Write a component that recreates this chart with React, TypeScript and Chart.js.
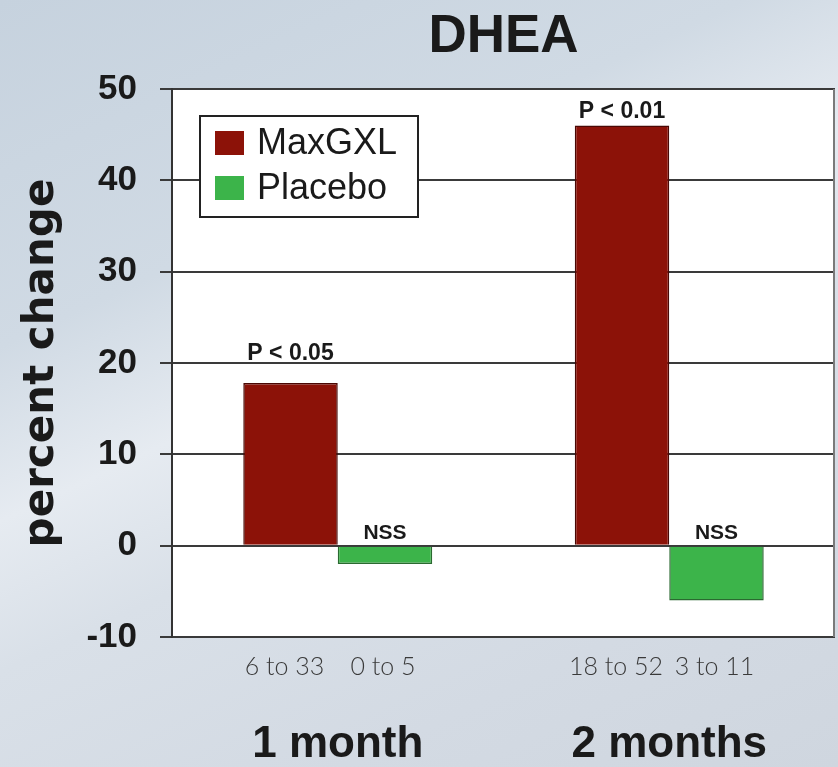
import React, { useEffect, useRef } from "react";
import { Chart, registerables } from "chart.js";

Chart.register(...registerables);

const categories = ["1 month", "2 months"];
const maxgxlValues = [17.8, 46];
const placeboValues = [-2, -6];
const maxgxlPLabels = ["P < 0.05", "P < 0.01"];
const placeboPLabels = ["NSS", "NSS"];
const maxgxlRanges = ["6 to 33", "18 to 52"];
const placeboRanges = ["0 to 5", "3 to 11"];
const yTicks = { min: -10, max: 50, step: 10 };

const SANS = "'Liberation Sans', Arial, sans-serif";

const plotBgPlugin = {
  id: "plotBg",
  beforeDraw(chart: any) {
    const { ctx, chartArea } = chart;
    ctx.save();
    ctx.fillStyle = "#ffffff";
    ctx.fillRect(chartArea.left, chartArea.top, chartArea.right - chartArea.left, chartArea.bottom - chartArea.top);
    ctx.restore();
  },
  afterDraw(chart: any) {
    const { ctx, chartArea } = chart;
    ctx.save();
    ctx.strokeStyle = "#7a7a7a";
    ctx.lineWidth = 2;
    ctx.beginPath();
    ctx.moveTo(chartArea.right - 1, chartArea.top);
    ctx.lineTo(chartArea.right - 1, chartArea.bottom);
    ctx.stroke();
    ctx.restore();
  },
};

const annotatePlugin = {
  id: "annotate",
  afterDatasetsDraw(chart: any) {
    const { ctx, chartArea } = chart;
    const yScale = chart.scales.y;
    const gridPx = yScale.ticks.map((t: any) => yScale.getPixelForValue(t.value));
    ctx.save();
    chart.data.datasets.forEach((ds: any, di: number) => {
      const meta = chart.getDatasetMeta(di);
      meta.data.forEach((el: any, i: number) => {
        const top = Math.min(el.y, el.base);
        const label = ds.pLabels[i];
        const size = ds.pLabelSize;
        ctx.font = `bold ${size}px ${SANS}`;
        ctx.fillStyle = "#1a1a1a";
        ctx.textAlign = "center";
        ctx.textBaseline = "alphabetic";
        let baseline = top - 8;
        const capH = size * 0.72;
        for (const g of gridPx) {
          if (g > baseline - capH - 3 && g < baseline + 3 && Math.abs(g - yScale.getPixelForValue(0)) > 1) {
            baseline = g - 3;
          }
        }
        ctx.fillText(label, el.x, baseline);
        ctx.font = `300 25px Lato, ${SANS}`;
        ctx.fillStyle = "#3a3a3a";
        ctx.textBaseline = "middle";
        ctx.fillText(ds.ranges[i], el.x - ds.rangeShift, chartArea.bottom + 30);
      });
    });
    ctx.restore();
  },
};

const legendPlugin = {
  id: "boxLegend",
  afterDraw(chart: any) {
    const { ctx, chartArea } = chart;
    const x = chartArea.left + 28;
    const y = chartArea.top + 27;
    const w = 218;
    const h = 101;
    ctx.save();
    ctx.fillStyle = "#ffffff";
    ctx.fillRect(x, y, w, h);
    ctx.strokeStyle = "#222";
    ctx.lineWidth = 2;
    ctx.strokeRect(x, y, w, h);
    chart.data.datasets.forEach((ds: any, i: number) => {
      const rowY = y + 27 + i * 45;
      ctx.fillStyle = ds.backgroundColor;
      ctx.fillRect(x + 15, rowY - 12, 29, 24);
      ctx.fillStyle = "#1a1a1a";
      ctx.font = `36px ${SANS}`;
      ctx.textAlign = "left";
      ctx.textBaseline = "middle";
      ctx.fillText(ds.label, x + 57, rowY + 1);
    });
    ctx.restore();
  },
};

export default function App() {
  const ref = useRef<HTMLCanvasElement>(null);
  useEffect(() => {
    if (!ref.current) return;
    const chart = new Chart(ref.current, {
      type: "bar",
      data: {
        labels: categories,
        datasets: [
          {
            label: "MaxGXL",
            data: maxgxlValues,
            backgroundColor: "#8c1208",
            borderColor: "#4a0804",
            borderWidth: 1.5,
            pLabels: maxgxlPLabels,
            pLabelSize: 23,
            ranges: maxgxlRanges,
            rangeShift: 6,
          } as any,
          {
            label: "Placebo",
            data: placeboValues,
            backgroundColor: "#3cb44a",
            borderColor: "#2a6a30",
            borderWidth: 1.5,
            pLabels: placeboPLabels,
            pLabelSize: 21,
            ranges: placeboRanges,
            rangeShift: 2,
          } as any,
        ],
      },
      options: {
        responsive: false,
        animation: false,
        layout: { padding: { left: 0, right: 3, top: 0, bottom: 0 } },
        datasets: { bar: { categoryPercentage: 0.57, barPercentage: 1.0 } },
        plugins: {
          legend: { display: false },
          tooltip: { enabled: false },
          title: {
            display: true,
            text: "DHEA",
            fullSize: false,
            color: "#1a1a1a",
            font: { family: SANS, size: 53, weight: "bold", lineHeight: 1.2 },
            padding: { top: 6, bottom: 19.4 },
          },
        },
        scales: {
          x: {
            grid: { display: false, drawTicks: false },
            border: { display: false },
            ticks: {
              color: "#1a1a1a",
              padding: 81,
              font: { family: SANS, size: 44, weight: "bold", lineHeight: 1.2 },
            },
            afterFit(scale: any) {
              scale.height = 130;
              scale.paddingLeft = 0;
              scale.paddingRight = 0;
            },
          },
          y: {
            min: yTicks.min,
            max: yTicks.max,
            ticks: {
              stepSize: yTicks.step,
              color: "#1a1a1a",
              padding: 23,
              font: { family: SANS, size: 35, weight: "bold" },
            },
            grid: { color: "#3a3a3a", lineWidth: 2, tickLength: 12, drawTicks: true },
            border: { display: true, color: "#333", width: 2 },
            title: {
              display: true,
              text: "percent change",
              color: "#1a1a1a",
              font: { family: "'DejaVu Sans', sans-serif", size: 42, weight: "bold", lineHeight: 1.2 },
              padding: { top: 17, bottom: 0 },
            },
            afterFit(scale: any) {
              scale.width = 172;
            },
          },
        },
      },
      plugins: [plotBgPlugin, annotatePlugin, legendPlugin],
    });
    return () => chart.destroy();
  }, []);
  return (
    <div
      style={{
        position: "fixed",
        left: 0,
        top: 0,
        width: 838,
        height: 767,
        background:
          "linear-gradient(155deg, #c6d2de 0%, #d0dae4 30%, #e6ebf1 45%, #d9e0e8 58%, #d3dae3 80%, #cfd6df 100%)",
      }}
    >
      <canvas ref={ref} width={838} height={767} style={{ display: "block" }} />
    </div>
  );
}
